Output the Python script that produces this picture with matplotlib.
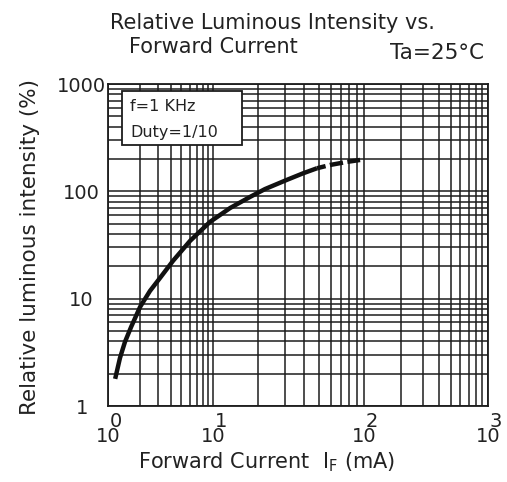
import numpy as np
import matplotlib
matplotlib.use("Agg")
import matplotlib.pyplot as plt
from matplotlib.ticker import LogLocator, NullFormatter
from matplotlib.patches import Rectangle

plt.rcParams['font.family'] = ['DejaVu Sans']
plt.rcParams['mathtext.default'] = 'regular'

# curve: forward current (mA) vs relative intensity (%)
if_ma = [1.17, 1.30, 1.45, 1.66, 2.02, 2.51, 3.13, 4.16, 6.04, 9.36,
         13.0, 17.6, 22.1, 30.9, 39.4, 48.8, 59.6, 77.1, 94.2]
iv_pct = [1.79, 2.80, 3.95, 5.45, 8.37, 11.8, 15.6, 22.5, 34.5, 51.9,
          70.0, 88.7, 105, 128, 147, 164, 176, 188, 196]
dash_from = 48.8          # curve turns to dashes from this current on

x_decades = [1, 10, 100, 1000]
y_ticks = [1, 10, 100, 1000]
y_labels = ['1', '10', '100', '1000']
box_lines = ['f=1 KHz', 'Duty=1/10']

# the printed chart has unequal decade widths on the current axis
dec = [-10, 0, 1, 2, 3, 13]
pos = [-1050, 0, 105, 256, 380, 1620]


def fwd(x):
    lg = np.log10(np.clip(np.asarray(x, float), 1e-12, None))
    return np.interp(lg, dec, pos)


def inv(v):
    return 10 ** np.interp(np.asarray(v, float), pos, dec)


W, H = 507, 482
fig = plt.figure(figsize=(W / 100, H / 100), dpi=100)
ax = fig.add_axes([108 / W, (H - 406) / H, 380 / W, 322 / H])

ax.set_xscale('function', functions=(fwd, inv))
ax.set_yscale('log')
ax.set_xlim(1, 1000)
ax.set_ylim(1, 1000)

ax.xaxis.set_major_locator(LogLocator(base=10))
ax.xaxis.set_minor_locator(LogLocator(base=10, subs=np.arange(2, 10)))
ax.xaxis.set_minor_formatter(NullFormatter())
ax.yaxis.set_minor_locator(LogLocator(base=10, subs=np.arange(2, 10)))
ax.yaxis.set_minor_formatter(NullFormatter())

gk = dict(color='#1c1c1c', linewidth=1.1)
ax.grid(True, which='both', **gk)
ax.set_axisbelow(True)
for s in ax.spines.values():
    s.set_color('#1c1c1c')
    s.set_linewidth(1.3)

ax.tick_params(which='both', length=0)
ax.set_yticks(y_ticks)
ax.set_yticklabels(y_labels, fontsize=14, color='#222')
for lab in ax.get_yticklabels():
    lab.set_horizontalalignment('center')
ax.tick_params(axis='y', pad=19)

# x tick labels: "10" with a full size exponent, as printed
ax.set_xticks(x_decades)
ax.set_xticklabels(['10'] * len(x_decades), fontsize=14, color='#222')
ax.tick_params(axis='x', pad=15)
for v in x_decades:
    ax.annotate(str(int(round(np.log10(v)))), xy=(v, 0),
                xycoords=('data', 'axes fraction'), xytext=(1, -11),
                textcoords='offset points', ha='left', va='center',
                fontsize=14, color='#222')

x = np.array(if_ma)
y = np.array(iv_pct)
solid = x <= dash_from
tail = x >= dash_from
ax.plot(x[solid], y[solid], color='#111', linewidth=3.2,
        solid_capstyle='butt', solid_joinstyle='round', zorder=3)
ax.plot(x[tail], y[tail], color='#111', linewidth=3.2,
        linestyle=(1, (3, 1)), zorder=3)

ax.add_patch(Rectangle((0.037, 0.811), 0.316, 0.167, transform=ax.transAxes,
                       facecolor='white', edgecolor='#1c1c1c',
                       linewidth=1.3, zorder=4))
ax.text(0.058, 0.929, box_lines[0], transform=ax.transAxes, fontsize=11.5,
        va='center', ha='left', color='#222', zorder=5)
ax.text(0.058, 0.848, box_lines[1], transform=ax.transAxes, fontsize=11.5,
        va='center', ha='left', color='#222', zorder=5)

fig.text(272 / W, 1 - 23 / H, 'Relative Luminous Intensity vs.',
         ha='center', va='center', fontsize=15, color='#222')
fig.text(213 / W, 1 - 47 / H, 'Forward Current',
         ha='center', va='center', fontsize=15, color='#222')
fig.text(437 / W, 1 - 53 / H, 'Ta=25°C',
         ha='center', va='center', fontsize=15.5, color='#222')
fig.text(30 / W, 1 - 247 / H, 'Relative luminous intensity (%)',
         rotation=90, ha='center', va='center', fontsize=15.5, color='#222')
fig.text(138 / W, 1 - 462 / H, r'Forward Current  I$_{F}$ (mA)',
         ha='left', va='center', fontsize=15, color='#222')

fig.savefig('out.png', dpi=100)
